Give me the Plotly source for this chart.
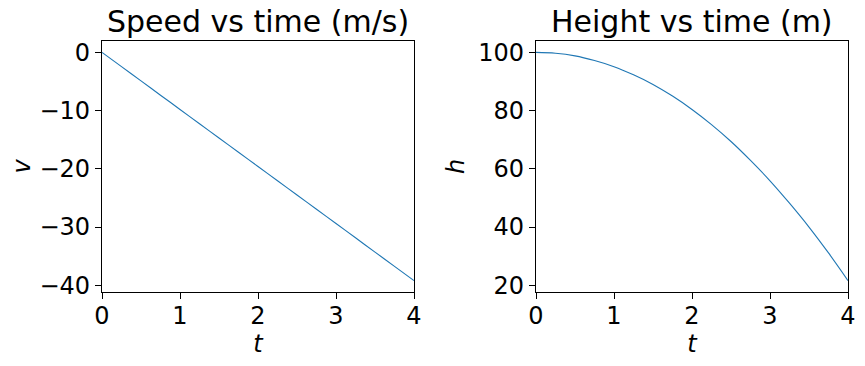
import plotly.graph_objects as go

# Data
t_vals = [0, 0.25, 0.5, 0.75, 1.0, 1.25, 1.5, 1.75, 2.0, 2.25, 2.5, 2.75, 3.0, 3.25, 3.5, 3.75, 4.0]
speed_vals = [0, -2.45, -4.9, -7.35, -9.8, -12.25, -14.7, -17.15, -19.6, -22.05, -24.5, -26.95, -29.4, -31.85, -34.3, -36.75, -39.2]
height_vals = [100, 99.7, 98.8, 97.2, 95.1, 92.3, 89.0, 85.0, 80.4, 75.2, 69.4, 62.9, 55.9, 48.2, 40.0, 31.1, 21.6]

titles = ["Speed vs time (m/s)", "Height vs time (m)"]
x_ticks = [0, 1, 2, 3, 4]
v_ticks = [0, -10, -20, -30, -40]
h_ticks = [20, 40, 60, 80, 100]

W, H = 865, 366
FONT = "DejaVu Sans"
LINE_COLOR = "#1f77b4"
TICK_SIZE = 24
TITLE_SIZE = 30

fig = go.Figure()
fig.add_trace(go.Scatter(x=t_vals, y=speed_vals, mode="lines",
                         line=dict(color=LINE_COLOR, width=1.1, shape="spline"),
                         xaxis="x", yaxis="y", showlegend=False))
fig.add_trace(go.Scatter(x=t_vals, y=height_vals, mode="lines",
                         line=dict(color=LINE_COLOR, width=1.1, shape="spline"),
                         xaxis="x2", yaxis="y2", showlegend=False))

ydom = [(366 - 292) / H, (366 - 41) / H]
xdom1 = [102 / W, 414 / W]
xdom2 = [536 / W, 848 / W]

axis_common = dict(showline=True, mirror=True, linecolor="black", linewidth=1.3,
                   ticks="outside", ticklen=6, tickwidth=1.3, tickcolor="black",
                   showgrid=False, zeroline=False, automargin=False,
                   tickfont=dict(family=FONT, size=TICK_SIZE, color="black"))

def span(vals):
    lo, hi = min(vals), max(vals)
    m = 0.05 * (hi - lo)
    return [lo - m, hi + m]

fig.update_layout(
    width=W, height=H,
    margin=dict(l=0, r=0, t=0, b=0),
    paper_bgcolor="white", plot_bgcolor="white",
    font=dict(family=FONT, color="black"),
    xaxis=dict(domain=xdom1, range=[0, 4], tickvals=x_ticks, anchor="y", ticklabelstandoff=-4,
               title=dict(text="<i>t</i>", font=dict(family=FONT, size=TICK_SIZE), standoff=0),
               **axis_common),
    yaxis=dict(domain=ydom, range=span(speed_vals), tickvals=v_ticks,
               ticktext=[str(v).replace("-", "\u2212") for v in v_ticks], anchor="x",
               title=dict(text="<i>v</i>", font=dict(family=FONT, size=TICK_SIZE), standoff=1),
               **axis_common),
    xaxis2=dict(domain=xdom2, range=[0, 4], tickvals=x_ticks, anchor="y2", ticklabelstandoff=-4,
                title=dict(text="<i>t</i>", font=dict(family=FONT, size=TICK_SIZE), standoff=0),
                **axis_common),
    yaxis2=dict(domain=ydom, range=span(height_vals), tickvals=h_ticks, anchor="x2",
                title=dict(text="<i>h</i>", font=dict(family=FONT, size=TICK_SIZE), standoff=6),
                **axis_common),
)

for i, (title, dom) in enumerate(zip(titles, [xdom1, xdom2])):
    fig.add_annotation(text=title, x=(dom[0] + dom[1]) / 2, y=ydom[1], xref="paper", yref="paper",
                       xanchor="center", yanchor="bottom", yshift=0, showarrow=False,
                       font=dict(family=FONT, size=TITLE_SIZE, color="black"))

fig.write_html("out.html", config={"displayModeBar": False},
               post_script="document.body.style.margin='0';document.body.style.overflow='hidden';")
